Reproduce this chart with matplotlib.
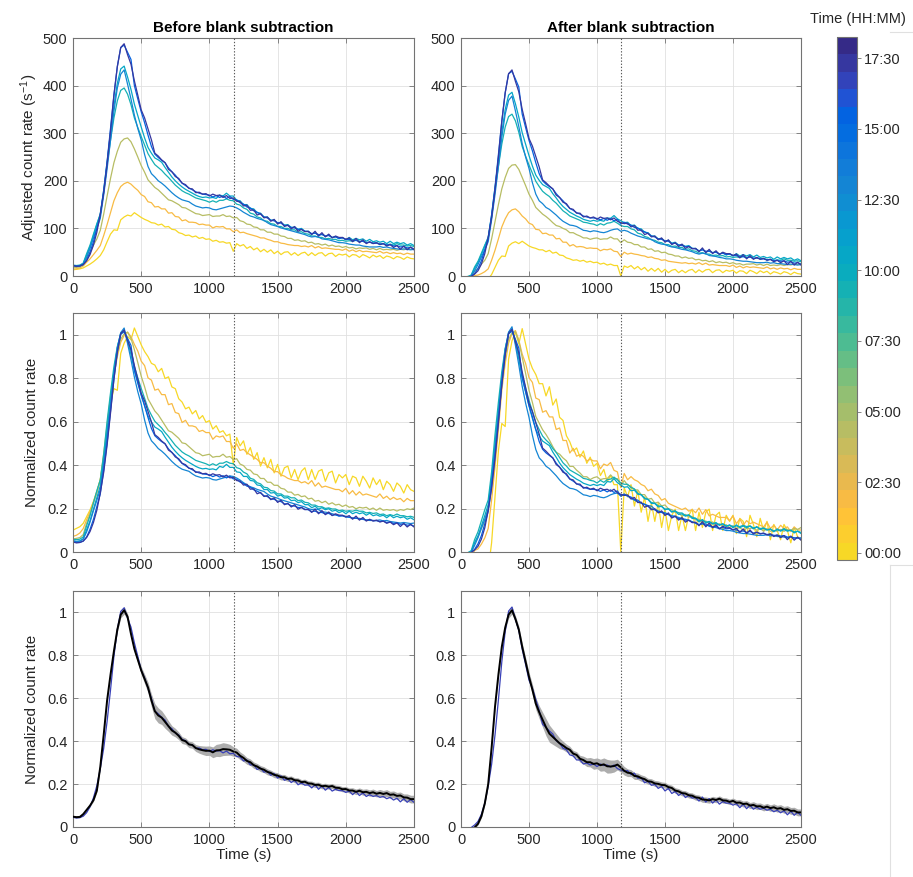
import numpy as np
import matplotlib
matplotlib.use("Agg")
import matplotlib.pyplot as plt
from matplotlib.colors import ListedColormap, Normalize
from matplotlib.cm import ScalarMappable
from matplotlib.lines import Line2D

plt.rcParams['font.family'] = ['Liberation Sans', 'DejaVu Sans']
plt.rcParams['mathtext.default'] = 'regular'

# ---------------- data ----------------
time_s = list(range(0, 2501, 25))

# acquisition time of each run (minutes after 00:00)
run_time_min = [0, 120, 270, 540, 650, 785, 940, 1050]

raw_0000 = [13,14,15,17,21,25,30,36,43,55,
            72,88,97,96,118,124,128,126,133,128,
            123,119,116,112,111,107,109,103,104,98,
            97,91,89,85,86,82,84,79,81,77,
            78,73,75,71,72,69,70,52,68,63,
            66,58,62,55,59,51,56,50,55,47,
            52,45,50,51,44,49,43,48,50,43,
            49,43,48,49,42,47,48,41,46,44,
            46,40,45,44,39,45,42,38,44,40,
            43,37,42,40,36,41,39,35,40,37,
            36]
raw_0200 = [14,15,17,21,29,36,45,54,64,85,
            108,133,158,175,188,194,197,193,186,180,
            171,167,156,154,145,146,141,141,132,133,
            125,124,116,118,113,113,112,108,109,107,
            107,101,104,103,104,99,99,93,97,91,
            92,89,87,85,83,80,80,77,75,72,
            72,69,68,66,65,64,64,62,63,61,
            64,59,62,58,59,58,57,56,56,54,
            57,52,55,51,54,51,52,51,50,49,
            52,48,50,47,49,47,48,45,48,46,
            46]
raw_0430 = [17,18,19,23,38,50,65,78,96,130,
            168,205,238,262,281,288,290,282,267,250,
            232,218,202,194,186,181,174,167,160,158,
            154,150,144,143,139,135,131,130,127,128,
            129,125,126,126,129,125,126,122,123,116,
            114,109,108,103,102,97,97,92,92,88,
            88,84,83,79,79,75,76,73,74,70,
            71,67,68,65,67,63,65,62,63,60,
            62,59,60,57,59,58,59,56,58,55,
            58,55,56,55,56,54,56,55,57,56,
            58]
raw_0900 = [23,22,23,27,47,65,88,110,129,175,
            234,285,332,368,390,395,382,360,332,312,
            293,275,257,245,234,228,222,214,207,199,
            191,185,179,175,172,168,164,162,160,158,
            155,158,155,159,159,162,159,158,151,149,
            143,140,132,130,124,122,116,115,110,109,
            104,104,100,100,97,97,92,93,89,88,
            84,84,81,81,78,79,77,77,74,75,
            73,74,73,75,73,73,70,71,69,70,
            67,68,65,67,65,68,65,65,63,64,
            62]
raw_1050 = [22,21,22,26,44,62,85,108,131,180,
            240,300,357,405,435,441,418,392,361,337,
            313,290,270,258,248,244,239,228,218,208,
            200,193,187,182,178,174,170,167,165,166,
            164,165,163,170,168,174,168,168,159,158,
            150,150,142,141,133,132,124,124,117,118,
            111,113,107,108,102,103,98,100,94,94,
            88,91,85,88,84,86,81,83,78,81,
            76,81,76,79,76,78,73,77,72,74,
            71,73,68,73,68,71,68,70,65,68,
            64]
raw_1305 = [22,20,21,25,39,58,80,100,121,170,
            225,285,346,395,424,433,403,372,338,310,
            286,255,230,215,208,200,195,189,182,175,
            169,164,160,158,156,151,147,145,143,144,
            143,140,139,141,143,145,147,146,143,139,
            134,130,126,124,121,119,117,112,108,106,
            104,101,99,97,95,93,91,89,87,84,
            82,83,82,78,77,76,74,72,70,70,
            69,67,66,65,65,63,62,61,61,61,
            62,60,61,59,58,57,56,57,56,55,
            56]
raw_1540 = [22,21,21,24,33,50,72,100,128,180,
            240,310,380,440,480,485,470,455,400,372,
            345,322,296,272,256,249,243,238,227,219,
            212,203,195,190,185,181,177,174,172,171,
            170,166,169,165,168,163,167,161,160,154,
            151,145,143,137,134,130,124,122,117,116,
            112,111,106,106,102,101,98,98,94,93,
            89,90,87,87,84,85,81,82,79,80,
            77,77,74,75,72,73,70,71,69,69,
            67,68,65,66,63,64,61,62,59,60,
            57]
raw_1730 = [22,20,21,24,32,45,65,92,130,175,
            235,305,380,440,480,488,465,445,410,380,
            349,332,309,286,258,252,244,238,224,219,
            209,205,195,192,184,183,175,176,172,173,
            168,172,169,170,165,169,163,164,157,156,
            147,149,138,139,128,131,122,124,115,119,
            109,114,104,107,99,104,94,98,93,94,
            87,94,84,91,82,88,80,84,81,81,
            77,80,72,79,70,76,68,72,68,70,
            66,68,63,66,60,64,56,63,55,61,
            55]

blank = [24,24,24,25,28,34,40,45,49,52,
         54,55,55,55,55,55,56,58,60,60,
         60,59,58,57,56,56,55,55,54,54,
         54,53,53,52,52,51,51,50,50,49,
         49,48,48,48,47,47,48,52,47,45,
         44,43,42,42,41,41,40,40,39,39,
         38,38,38,37,37,37,36,36,36,36,
         36,35,35,35,35,35,35,34,34,34,
         34,34,34,34,34,33,33,33,33,33,
         33,33,33,33,32,32,32,32,32,32,
         32]

# replicate summary (mean and standard deviation of normalized runs)
rep_mean_before = [0.048,0.046,0.047,0.06,0.08,0.10,0.125,0.17,0.28,0.43,
                   0.59,0.71,0.82,0.92,0.99,1.01,0.98,0.90,0.83,0.78,
                   0.73,0.69,0.65,0.59,0.54,0.52,0.51,0.49,0.47,0.45,
                   0.44,0.425,0.405,0.40,0.385,0.382,0.368,0.362,0.358,0.355,
                   0.356,0.348,0.357,0.358,0.363,0.362,0.36,0.352,0.347,0.332,
                   0.322,0.308,0.302,0.288,0.282,0.272,0.267,0.257,0.252,0.243,
                   0.24,0.232,0.232,0.224,0.226,0.218,0.217,0.209,0.211,0.203,
                   0.202,0.196,0.197,0.19,0.192,0.188,0.191,0.183,0.182,0.176,
                   0.177,0.17,0.17,0.164,0.169,0.162,0.164,0.158,0.162,0.155,
                   0.159,0.154,0.158,0.15,0.152,0.145,0.147,0.138,0.137,0.13,
                   0.13]
rep_std_before = [0.004,0.004,0.004,0.005,0.005,0.006,0.006,0.007,0.008,0.01,
                  0.01,0.012,0.012,0.012,0.015,0.018,0.015,0.015,0.014,0.015,
                  0.018,0.022,0.025,0.03,0.035,0.035,0.032,0.03,0.025,0.022,
                  0.02,0.018,0.016,0.015,0.015,0.015,0.016,0.018,0.02,0.022,
                  0.022,0.025,0.028,0.03,0.03,0.028,0.025,0.022,0.02,0.018,
                  0.017,0.016,0.015,0.015,0.014,0.014,0.014,0.014,0.013,0.013,
                  0.013,0.013,0.013,0.012,0.012,0.012,0.012,0.012,0.012,0.012,
                  0.012,0.012,0.012,0.012,0.012,0.012,0.012,0.012,0.012,0.012,
                  0.012,0.012,0.013,0.013,0.013,0.014,0.014,0.015,0.015,0.015,
                  0.016,0.016,0.016,0.016,0.016,0.016,0.016,0.016,0.017,0.018,
                  0.018]
rep_mean_after = [-0.03,-0.03,-0.02,-0.01,-0.002,0.015,0.05,0.11,0.2,0.37,
                  0.56,0.71,0.84,0.93,0.99,1.01,0.97,0.92,0.84,0.77,
                  0.70,0.64,0.575,0.535,0.50,0.465,0.435,0.42,0.405,0.39,
                  0.38,0.368,0.36,0.342,0.336,0.318,0.312,0.302,0.302,0.294,
                  0.297,0.288,0.292,0.283,0.282,0.284,0.291,0.278,0.262,0.253,
                  0.251,0.238,0.236,0.228,0.223,0.213,0.211,0.203,0.201,0.196,
                  0.195,0.186,0.182,0.170,0.166,0.158,0.156,0.148,0.146,0.138,
                  0.136,0.128,0.127,0.124,0.13,0.126,0.132,0.124,0.123,0.117,
                  0.122,0.113,0.114,0.107,0.109,0.1,0.103,0.096,0.097,0.09,
                  0.095,0.088,0.092,0.085,0.088,0.08,0.083,0.075,0.076,0.068,
                  0.068]
rep_std_after = [0.004,0.004,0.004,0.005,0.005,0.006,0.007,0.008,0.01,0.012,
                 0.012,0.012,0.012,0.014,0.016,0.018,0.016,0.016,0.018,0.02,
                 0.022,0.025,0.028,0.03,0.035,0.04,0.04,0.035,0.03,0.025,
                 0.02,0.018,0.016,0.015,0.015,0.016,0.018,0.02,0.022,0.025,
                 0.025,0.028,0.03,0.032,0.03,0.028,0.025,0.022,0.02,0.018,
                 0.016,0.016,0.015,0.015,0.015,0.014,0.014,0.014,0.014,0.014,
                 0.013,0.013,0.013,0.013,0.013,0.013,0.013,0.013,0.013,0.013,
                 0.013,0.013,0.013,0.013,0.013,0.013,0.013,0.013,0.013,0.013,
                 0.013,0.014,0.014,0.014,0.014,0.014,0.015,0.015,0.015,0.015,
                 0.015,0.015,0.016,0.016,0.016,0.016,0.016,0.016,0.016,0.016,
                 0.016]

marker_time_s = 1180
colorbar_ticks_min = [0, 150, 300, 450, 600, 750, 900, 1050]

raw_runs = [raw_0000, raw_0200, raw_0430, raw_0900,
            raw_1050, raw_1305, raw_1540, raw_1730]
for arr in raw_runs + [blank, rep_mean_before, rep_std_before, rep_mean_after, rep_std_after]:
    assert len(arr) == len(time_s), len(arr)

# ---------------- colormap (parula-like, reversed, banded) ----------------
parula64 = [
 (0.2081,0.1663,0.5292),(0.2116,0.1898,0.5777),(0.2123,0.2138,0.6270),(0.2081,0.2386,0.6771),
 (0.1959,0.2645,0.7279),(0.1707,0.2919,0.7792),(0.1253,0.3242,0.8303),(0.0591,0.3598,0.8683),
 (0.0117,0.3875,0.8820),(0.0060,0.4086,0.8828),(0.0165,0.4266,0.8786),(0.0329,0.4430,0.8720),
 (0.0498,0.4586,0.8641),(0.0629,0.4737,0.8554),(0.0723,0.4887,0.8467),(0.0779,0.5040,0.8384),
 (0.0793,0.5200,0.8312),(0.0749,0.5375,0.8263),(0.0641,0.5570,0.8240),(0.0488,0.5772,0.8228),
 (0.0343,0.5966,0.8199),(0.0265,0.6137,0.8135),(0.0239,0.6287,0.8038),(0.0231,0.6418,0.7913),
 (0.0228,0.6535,0.7768),(0.0267,0.6642,0.7607),(0.0384,0.6743,0.7436),(0.0590,0.6838,0.7254),
 (0.0843,0.6928,0.7062),(0.1133,0.7015,0.6859),(0.1453,0.7098,0.6646),(0.1801,0.7177,0.6424),
 (0.2178,0.7250,0.6193),(0.2586,0.7317,0.5954),(0.3022,0.7376,0.5712),(0.3482,0.7424,0.5473),
 (0.3953,0.7459,0.5244),(0.4420,0.7481,0.5033),(0.4871,0.7491,0.4840),(0.5300,0.7491,0.4661),
 (0.5709,0.7485,0.4494),(0.6099,0.7473,0.4337),(0.6473,0.7456,0.4188),(0.6834,0.7435,0.4044),
 (0.7184,0.7411,0.3905),(0.7525,0.7384,0.3768),(0.7858,0.7356,0.3633),(0.8185,0.7327,0.3498),
 (0.8507,0.7299,0.3360),(0.8824,0.7274,0.3217),(0.9139,0.7258,0.3063),(0.9450,0.7261,0.2886),
 (0.9739,0.7314,0.2666),(0.9938,0.7455,0.2403),(0.9990,0.7653,0.2164),(0.9955,0.7861,0.1967),
 (0.9880,0.8066,0.1794),(0.9789,0.8271,0.1633),(0.9697,0.8481,0.1475),(0.9626,0.8705,0.1309),
 (0.9589,0.8949,0.1132),(0.9598,0.9218,0.0948),(0.9661,0.9514,0.0755),(0.9763,0.9831,0.0538)]
cmap = ListedColormap(parula64[0:60:2][::-1])
norm = Normalize(vmin=-15, vmax=1095)
run_colors = [cmap(norm(m)) for m in run_time_min]

# ---------------- derived series ----------------
t = np.array(time_s, dtype=float)
raw = [np.array(r, dtype=float) for r in raw_runs]
blank_arr = np.array(blank, dtype=float)
sub = [r - blank_arr for r in raw]

def normalize(y):
    smooth = np.convolve(y, np.ones(3) / 3.0, mode='same')
    return y / smooth[1:-1].max()

raw_n = [normalize(y) for y in raw]
sub_n = [normalize(y) for y in sub]

# ---------------- figure ----------------
W, H = 913, 877
fig = plt.figure(figsize=(W / 100, H / 100), dpi=100)

def px_axes(x0, y0, x1, y1):
    return fig.add_axes([x0 / W, 1 - y1 / H, (x1 - x0) / W, (y1 - y0) / H])

lefts = [(73, 414), (461, 801)]
rows = [(38, 276), (313, 552), (591, 827)]
axes = [[px_axes(l[0], r[0], l[1], r[1]) for l in lefts] for r in rows]

txt_col = (0.15, 0.15, 0.15)
spine_col = (0.45, 0.45, 0.45)

def style(ax, top_row):
    ax.set_xlim(0, 2500)
    ax.set_xticks(range(0, 2501, 500))
    if top_row:
        ax.set_ylim(0, 500)
        ax.set_yticks(range(0, 501, 100))
    else:
        ax.set_ylim(0, 1.1)
        ax.set_yticks([0, 0.2, 0.4, 0.6, 0.8, 1.0])
        ax.set_yticklabels(['0', '0.2', '0.4', '0.6', '0.8', '1'])
    ax.tick_params(direction='in', length=3.5, width=0.6, top=True, right=True,
                   labelsize=10.5, color=spine_col, labelcolor=txt_col, pad=4)
    for s in ax.spines.values():
        s.set_color(spine_col)
        s.set_linewidth(0.8)
    ax.grid(True, color=(0.88, 0.88, 0.88), lw=0.6)
    ax.set_axisbelow(True)
    ax.axvline(marker_time_s, color=(0.35, 0.35, 0.35), ls=(0, (1.2, 1.6)), lw=0.8, zorder=5)

# top row: adjusted count rates
for ax, series in ((axes[0][0], raw), (axes[0][1], sub)):
    style(ax, True)
    for y, c in zip(series, run_colors):
        ax.plot(t, y, color=c, lw=0.9)

# middle row: normalized
for ax, series in ((axes[1][0], raw_n), (axes[1][1], sub_n)):
    style(ax, False)
    for y, c in zip(series, run_colors):
        ax.plot(t, y, color=c, lw=0.9)

# bottom row: replicate mean +/- std with one run
for ax, m, s, run in ((axes[2][0], rep_mean_before, rep_std_before, raw_n[-1]),
                      (axes[2][1], rep_mean_after, rep_std_after, sub_n[-1])):
    style(ax, False)
    m = np.array(m); s = np.array(s)
    ax.fill_between(t, m - s, m + s, color=(0.68, 0.68, 0.68), lw=0, zorder=2)
    ax.plot(t, run, color=(0.22, 0.25, 0.72), lw=0.9, zorder=3)
    ax.plot(t, m, color='black', lw=1.4, zorder=4)
    ax.set_xlabel('Time (s)', fontsize=11, color=txt_col, labelpad=1)

axes[0][0].set_title('Before blank subtraction', fontsize=11, fontweight='bold', pad=4)
axes[0][1].set_title('After blank subtraction', fontsize=11, fontweight='bold', pad=4)
axes[0][0].set_ylabel(r'Adjusted count rate (s$^{-1}$)', fontsize=11, color=txt_col, labelpad=2)
axes[1][0].set_ylabel('Normalized count rate', fontsize=11, color=txt_col, labelpad=6)
axes[2][0].set_ylabel('Normalized count rate', fontsize=11, color=txt_col, labelpad=6)

# colorbar
cax = px_axes(837, 37, 857, 560)
cb = fig.colorbar(ScalarMappable(norm=norm, cmap=cmap), cax=cax)
cb.set_ticks(colorbar_ticks_min)
cb.set_ticklabels(['%02d:%02d' % (m // 60, m % 60) for m in colorbar_ticks_min])
cax.tick_params(direction='out', length=3, width=0.6, labelsize=10.5,
                color=spine_col, labelcolor=txt_col, pad=2)
cb.outline.set_edgecolor(spine_col)
cb.outline.set_linewidth(0.8)
fig.text(858 / W, 1 - 19 / H, 'Time (HH:MM)', ha='center', va='center',
         fontsize=10.5, color=txt_col)

# faint panel-edge lines at right border
edge = (0.88, 0.88, 0.88)
fig.add_artist(Line2D([890 / W, 890 / W], [1 - 877 / H, 1 - 565 / H], color=edge, lw=0.8))
fig.add_artist(Line2D([890 / W, 1.0], [1 - 565 / H, 1 - 565 / H], color=edge, lw=0.8))
fig.add_artist(Line2D([890 / W, 1.0], [1 - 32 / H, 1 - 32 / H], color=edge, lw=0.8))

fig.savefig('out.png', dpi=100)
